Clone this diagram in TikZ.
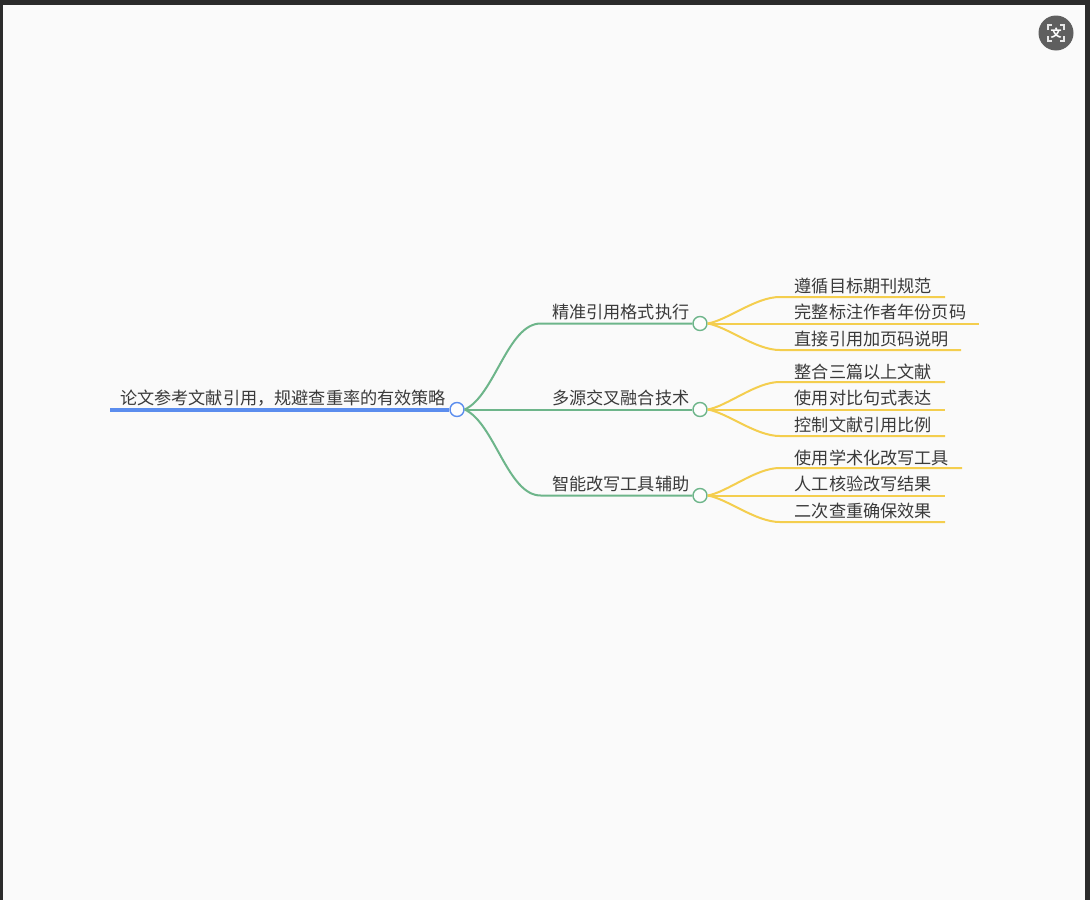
\documentclass[tikz,border=0pt]{standalone}
\usepackage{fontspec}
\usetikzlibrary{calc}
\setmainfont{Noto Sans CJK SC}
\definecolor{bgc}{HTML}{FAFAFA}
\definecolor{framec}{HTML}{2B2B2B}
\definecolor{bluec}{HTML}{5B8DEE}
\definecolor{greenc}{HTML}{6DB58A}
\definecolor{yellowc}{HTML}{F4CE4E}
\definecolor{txtc}{HTML}{3A3A3A}
\definecolor{iconc}{HTML}{5F5F5F}
\tikzset{
  lbl/.style={font=\fontsize{17.15}{17.15}\selectfont, text=txtc, inner sep=0pt, anchor=base west},
  hub/.style={circle, draw=#1, fill=white!60!bgc, line width=1.4pt, minimum size=14pt, inner sep=0pt},
  rootline/.style={draw=bluec, line width=4pt},
  greenline/.style={draw=greenc, line width=2pt},
  yellowline/.style={draw=yellowc, line width=2pt},
}
\newcommand{\branchG}[1]{%
  \draw[greenline] (root.east) .. controls ($(root.east)!0.16!(root.east|-#1)+(30,0)$) and ($(root.east|-#1)+(43,0)$) .. ($(root.east|-#1)+(76,0)$) -- (#1.west);}
\newcommand{\branchY}[2]{%
  \draw[yellowline] (#1.east) .. controls ($(#1.east)!0.13!(#1.east|-#2)+(20,0)$) and ($(#1.east|-#2)+(48,0)$) .. ($(#1.east|-#2)+(72,0)$) -- (#2);}
\begin{document}
\begin{tikzpicture}[x=1pt,y=-1pt]
\useasboundingbox (0,0) rectangle (1090,900);
\fill[framec] (0,0) rectangle (1090,900);
\fill[bgc] (3,4.5) rectangle (1085,900);
% icon
\node[circle, fill=iconc, minimum size=35pt, inner sep=0pt] (icon) at (1056,33) {};
\node[font=\fontsize{11}{11}\selectfont\bfseries, text=white, inner sep=0pt] (icontxt) at (1056,33) {文};
\draw[white!85!iconc, line width=1.1pt] (1048,30) |- (1052,25) (1060,25) -| (1064,30) (1064,36) |- (1060,41) (1052,41) -| (1048,36);
% hubs
\node[hub=bluec] (root) at (457,409.5) {};
\node[hub=greenc] (a) at (700,323.5) {};
\node[hub=greenc] (b) at (700,409.5) {};
\node[hub=greenc] (c) at (700,495.5) {};
% free ends
\coordinate (rs) at (110,409.5);
\coordinate (a1) at (945,297);
\coordinate (a2) at (979,323.5);
\coordinate (a3) at (961,350);
\coordinate (b1) at (945,382);
\coordinate (b2) at (945,409.5);
\coordinate (b3) at (945,436);
\coordinate (c1) at (962,468);
\coordinate (c2) at (945,495.5);
\coordinate (c3) at (945,522);
% connectors
\draw[rootline] (rs) -- (root.west);
\branchG{a}
\draw[greenline] (root.east) -- (b.west);
\branchG{c}
\foreach \h in {a,b,c}{%
  \branchY{\h}{\h1}
  \draw[yellowline] (\h.east) -- (\h2);
  \branchY{\h}{\h3}
}
% labels
\node[lbl] (trt) at (120,404) {论文参考文献引用，规避查重率的有效策略};
\node[lbl] (ta) at (552,318) {精准引用格式执行};
\node[lbl] (tb) at (552,404) {多源交叉融合技术};
\node[lbl] (tc) at (552,490) {智能改写工具辅助};
\node[lbl] (ta1) at (794.5,292) {遵循目标期刊规范};
\node[lbl] (ta2) at (794.5,318) {完整标注作者年份页码};
\node[lbl] (ta3) at (794.5,345) {直接引用加页码说明};
\node[lbl] (tb1) at (794.5,378) {整合三篇以上文献};
\node[lbl] (tb2) at (794.5,404) {使用对比句式表达};
\node[lbl] (tb3) at (794.5,431) {控制文献引用比例};
\node[lbl] (tc1) at (794.5,464) {使用学术化改写工具};
\node[lbl] (tc2) at (794.5,490) {人工核验改写结果};
\node[lbl] (tc3) at (794.5,517) {二次查重确保效果};
\end{tikzpicture}
\end{document}
